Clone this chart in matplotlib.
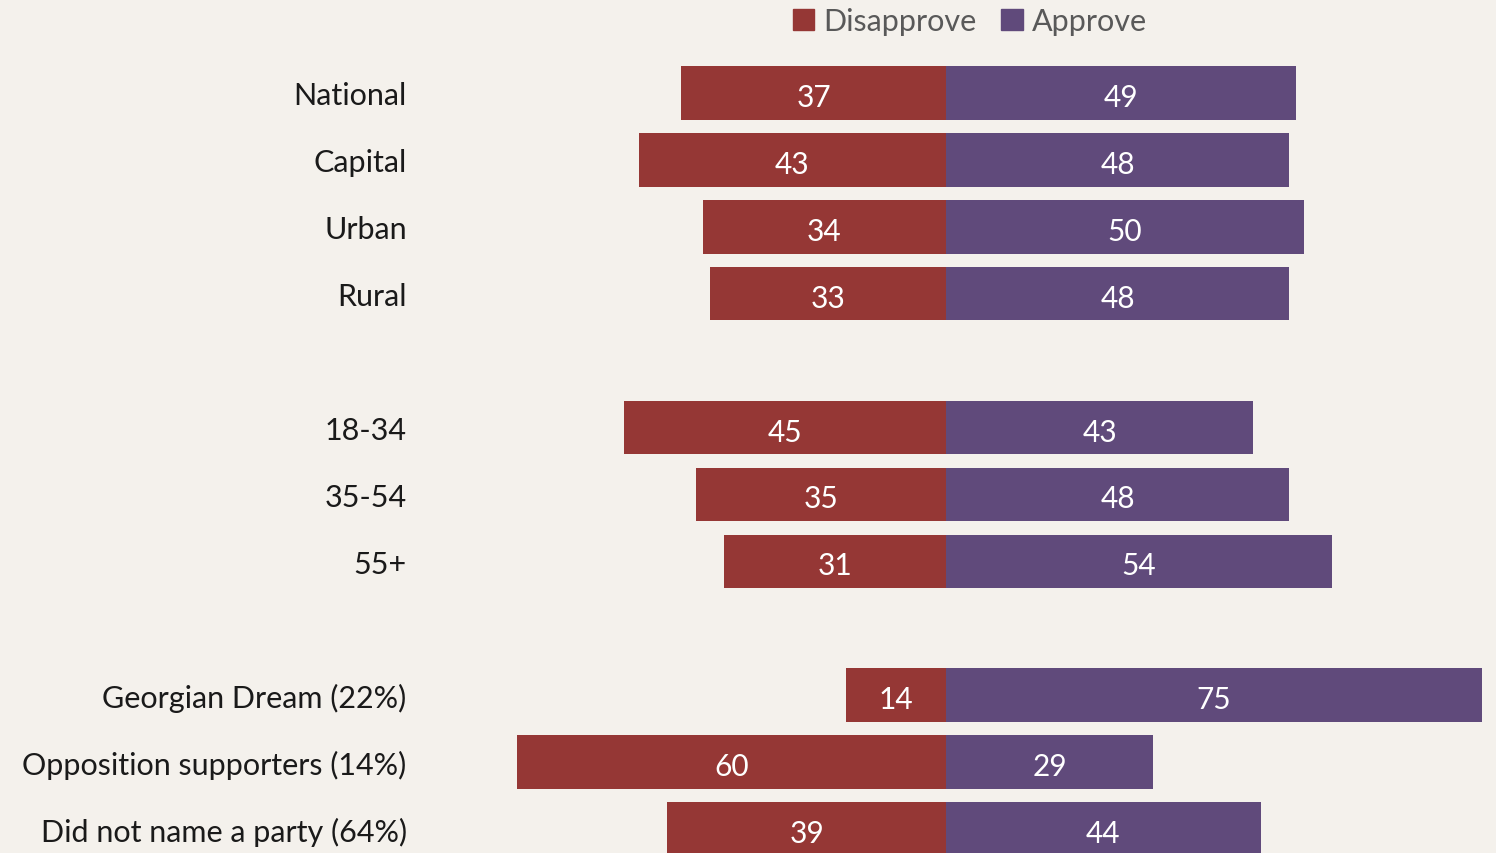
import matplotlib
matplotlib.use("Agg")
import matplotlib.pyplot as plt
from matplotlib.patches import Patch

categories = ["National", "Capital", "Urban", "Rural",
              "18-34", "35-54", "55+",
              "Georgian Dream (22%)", "Opposition supporters (14%)", "Did not name a party (64%)"]
slots = [0, 1, 2, 3, 5, 6, 7, 9, 10, 11]
disapprove = [37, 43, 34, 33, 45, 35, 31, 14, 60, 39]
approve = [49, 48, 50, 48, 43, 48, 54, 75, 29, 44]

RED = "#953735"
PURPLE = "#604A7B"
BG = "#F4F1EC"

plt.rcParams['font.family'] = ['Lato', 'DejaVu Sans']

W, H = 1496, 854
fig = plt.figure(figsize=(W / 100, H / 100), dpi=100, facecolor=BG)
left_px, right_px, top_px, bot_px = 415, 1490, 60, 856
ax = fig.add_axes([left_px / W, 1 - bot_px / H, (right_px - left_px) / W, (bot_px - top_px) / H])
ax.set_facecolor(BG)

ax.barh(slots, [-d for d in disapprove], height=0.8, color=RED, edgecolor="none")
ax.barh(slots, approve, height=0.8, color=PURPLE, edgecolor="none")

for s, d, a in zip(slots, disapprove, approve):
    ax.text(-d / 2, s + 0.06, str(d), ha="center", va="center", color="white", fontsize=21.5)
    ax.text(a / 2, s + 0.06, str(a), ha="center", va="center", color="white", fontsize=21.5)

ax.set_xlim(-(946 - left_px) / 7.15, (right_px - 946) / 7.15)
ax.set_ylim(11 + 26 / 67, -34 / 67)
ax.set_yticks(slots)
ax.set_yticklabels(categories, fontsize=22, color="#1a1a1a")
ax.tick_params(axis="y", length=0, pad=6)
ax.set_xticks([])
for sp in ax.spines.values():
    sp.set_visible(False)

handles = [Patch(color=RED, label="Disapprove"), Patch(color=PURPLE, label="Approve")]
fig.legend(handles=handles, loc="center", bbox_to_anchor=(970 / W, 1 - 22 / H), ncol=2,
           frameon=False, fontsize=22, labelcolor="#595959", handlelength=0.7, handleheight=0.7,
           handletextpad=0.3, columnspacing=0.8)

fig.savefig("out.png", dpi=100, facecolor=BG)
